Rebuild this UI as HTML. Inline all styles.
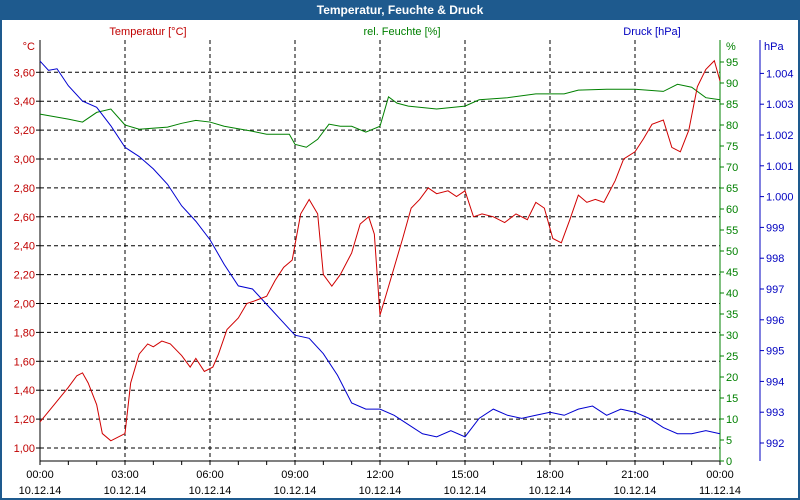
<!DOCTYPE html>
<html><head><meta charset="utf-8"><style>
body{margin:0;width:800px;height:500px;overflow:hidden;background:#fff;font-family:"Liberation Sans",sans-serif}
#frame{position:absolute;left:0;top:0;width:796px;height:496px;border:2px solid #1e5a8e;background:#fff}
#title{position:absolute;left:0;top:0;width:800px;height:20px;background:#1e5a8e;color:#fff;font-weight:bold;font-size:12px;text-align:center;line-height:20px}
svg{position:absolute;left:0;top:0}
text{font-family:"Liberation Sans",sans-serif;font-size:11px}
</style></head><body>
<div id="frame"></div>
<div id="title">Temperatur, Feuchte &amp; Druck</div>
<svg id="chart" width="800" height="500"></svg>
<script>
const tempTimes=[0,0.5,1,1.3,1.5,1.7,2,2.2,2.5,3,3.2,3.5,3.8,4,4.3,4.6,5,5.3,5.5,5.8,6.1,6.3,6.6,7,7.3,7.6,8,8.3,8.6,8.9,9.2,9.5,9.8,10,10.3,10.6,11,11.3,11.6,11.8,12,12.2,12.5,12.8,13.1,13.4,13.7,14,14.4,14.7,15,15.3,15.6,16,16.4,16.8,17.2,17.5,17.8,18.1,18.4,18.7,19,19.3,19.6,19.9,20.3,20.6,21,21.3,21.6,22,22.3,22.6,22.9,23.2,23.5,23.8,24];
const tempValues=[1.18,1.30,1.42,1.50,1.52,1.45,1.30,1.10,1.05,1.10,1.45,1.65,1.72,1.70,1.74,1.72,1.64,1.56,1.62,1.53,1.56,1.65,1.82,1.90,2.00,2.02,2.05,2.16,2.25,2.30,2.62,2.72,2.62,2.20,2.12,2.20,2.35,2.55,2.60,2.48,1.92,2.05,2.25,2.45,2.66,2.72,2.80,2.76,2.78,2.74,2.78,2.60,2.62,2.60,2.56,2.62,2.58,2.70,2.66,2.45,2.42,2.58,2.75,2.70,2.72,2.70,2.85,3.00,3.05,3.14,3.24,3.27,3.08,3.05,3.20,3.50,3.62,3.68,3.54];
const humTimes=[0,1,1.5,2,2.5,3,3.5,4.5,5,5.5,6,6.5,7.5,8,8.8,9,9.4,9.8,10.2,10.6,11,11.5,12,12.3,12.6,13,14,15,15.5,16.5,17.5,18.5,19,20,21,22,22.5,23,23.5,24];
const humValues=[82.6,81.4,80.7,83,83.8,80,79,79.5,80.4,81.1,80.7,79.7,78.5,77.8,77.8,75.4,74.7,76.6,80.2,79.7,79.7,78.3,79.7,86.7,85.2,84.5,83.8,84.5,86,86.5,87.4,87.4,88.3,88.5,88.5,88,89.7,89,86.5,86];
const presTimes=[0,0.3,0.6,1,1.5,2,2.5,3,3.5,4,4.5,5,5.5,6,6.5,7,7.5,8,8.5,9,9.5,10,10.5,11,11.5,12,12.5,13,13.5,14,14.5,15,15.5,16,16.5,17,17.5,18,18.5,19,19.5,20,20.5,21,21.5,22,22.5,23,23.5,24];
const presValues=[1004.4,1004.1,1004.15,1003.6,1003.1,1002.9,1002.3,1001.6,1001.3,1000.9,1000.4,999.7,999.2,998.6,997.8,997.1,997.0,996.5,996.0,995.5,995.4,994.9,994.2,993.3,993.1,993.1,992.9,992.6,992.3,992.2,992.4,992.2,992.8,993.1,992.9,992.8,992.9,993.0,992.9,993.1,993.2,992.9,993.1,993.0,992.8,992.5,992.3,992.3,992.4,992.3];
const tempTicks=[1.0,1.2,1.4,1.6,1.8,2.0,2.2,2.4,2.6,2.8,3.0,3.2,3.4,3.6];
const humTicks=[0,5,10,15,20,25,30,35,40,45,50,55,60,65,70,75,80,85,90,95];
const presTicks=[992,993,994,995,996,997,998,999,1000,1001,1002,1003,1004];
const timeTicks=[0,3,6,9,12,15,18,21,24];
const timeLabels=["00:00","03:00","06:00","09:00","12:00","15:00","18:00","21:00","00:00"];
const dateLabels=["10.12.14","10.12.14","10.12.14","10.12.14","10.12.14","10.12.14","10.12.14","10.12.14","11.12.14"];

const X0=40,X1=720,YT=40,YB=461;
const xs=h=>X0+(X1-X0)*h/24;
const yT=v=>448-(v-1.0)/0.2*28.9;
const yH=v=>461-v*4.2;
const yP=v=>443-(v-992)*30.8;
const svg=document.getElementById('chart');
const NS='http://www.w3.org/2000/svg';
function mk(tag,attrs,parent){const e=document.createElementNS(NS,tag);for(const k in attrs)e.setAttribute(k,attrs[k]);(parent||svg).appendChild(e);return e;}
function txt(s,x,y,fill,anchor){const t=mk('text',{x:x,y:y,fill:fill,'text-anchor':anchor||'start'});t.textContent=s;return t;}
const fmtT=v=>v.toFixed(2).replace('.',',');
const fmtP=v=>v>=1000?('1.'+String(v).slice(1)):String(v);

// grid
tempTicks.forEach(v=>{const l=mk('line',{x1:X0,x2:X1,y1:yT(v),y2:yT(v),stroke:'#000','stroke-dasharray':'4,3'});

});
timeTicks.slice(1,-1).forEach(h=>{const l=mk('line',{x1:xs(h),x2:xs(h),y1:YT,y2:YB,stroke:'#000','stroke-dasharray':'4,3'});

});
// axes
mk('line',{x1:X0,x2:X0,y1:YT,y2:YB,stroke:'#000'});
mk('line',{x1:X0,x2:X1,y1:YB,y2:YB,stroke:'#000'});
mk('line',{x1:X1,x2:X1,y1:YT,y2:YB,stroke:'#008000'});
mk('line',{x1:760,x2:760,y1:YT,y2:YB,stroke:'#0000c0'});
for(let h=0;h<=24;h++){mk('line',{x1:xs(h),x2:xs(h),y1:YB,y2:YB+4,stroke:'#000'});}
timeTicks.forEach((h,i)=>{const a=txt(timeLabels[i],xs(h),478,'#000','middle');


const b=txt(dateLabels[i],xs(h),494,'#000','middle');

});
tempTicks.forEach(v=>{mk('line',{x1:X0-4,x2:X0,y1:yT(v),y2:yT(v),stroke:'#000'});
const t=txt(fmtT(v),35,yT(v)+4,'#c00000','end');

});
humTicks.forEach(v=>{mk('line',{x1:X1,x2:X1+4,y1:yH(v),y2:yH(v),stroke:'#008000'});
const t=txt(String(v),726,yH(v)+4,'#008000');

});
presTicks.forEach(v=>{mk('line',{x1:760,x2:764,y1:yP(v),y2:yP(v),stroke:'#0000c0'});
const t=txt(fmtP(v),766,yP(v)+4,'#0000c0');

});
// unit labels
let u=txt('°C',35,50,'#c00000','end');
u=txt('%',726,50,'#008000');
u=txt('hPa',764,50,'#0000c0');
u=txt('Temperatur [°C]',148,35,'#c00000','middle');
u=txt('rel. Feuchte [%]',402,35,'#008000','middle');
u=txt('Druck [hPa]',652,35,'#0000c0','middle');
// series
function series(ts,vs,yf,color,name){const p=mk('polyline',{points:ts.map((t,i)=>xs(t)+','+yf(vs[i])).join(' '),fill:'none',stroke:color,'stroke-width':1});

}
series(humTimes,humValues,yH,'#008000','humidity-line');
series(presTimes,presValues,yP,'#0000d0','pressure-line');
series(tempTimes,tempValues,yT,'#d00000','temperature-line');
</script>
</body></html>
